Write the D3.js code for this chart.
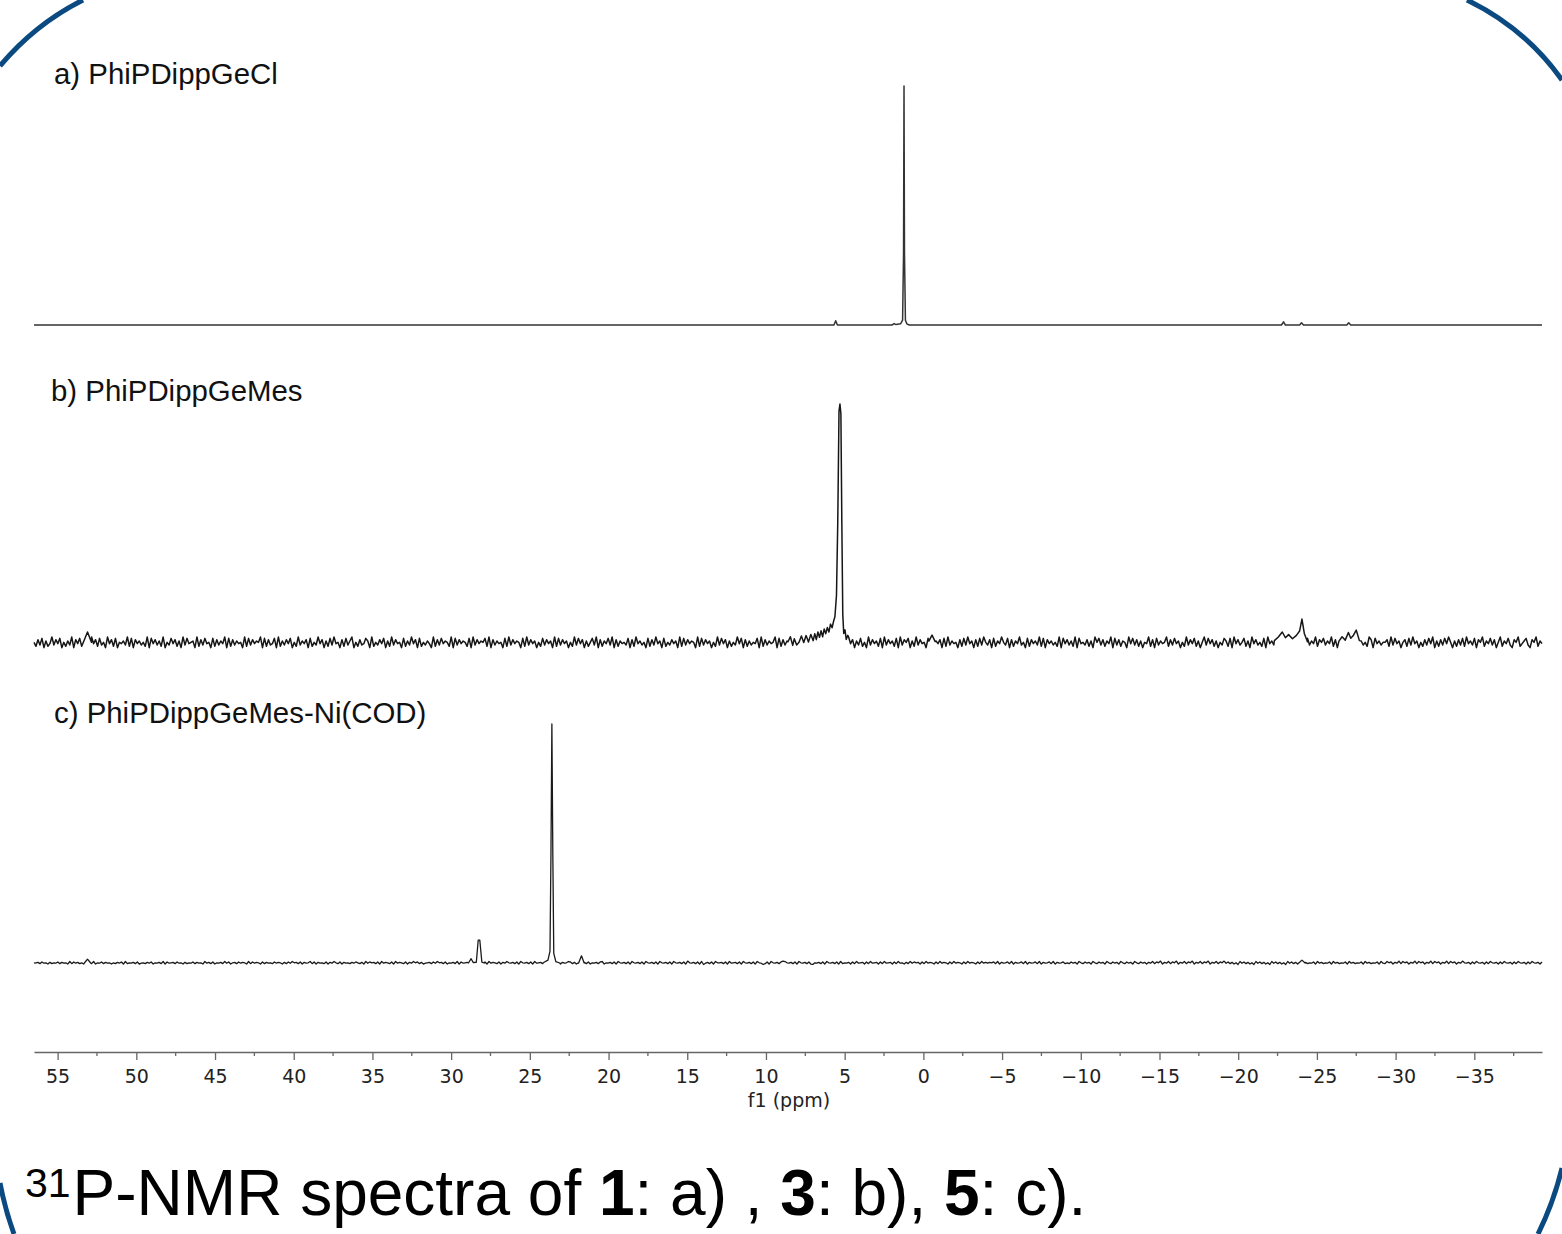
<!DOCTYPE html>
<html><head><meta charset="utf-8">
<script src="https://cdn.jsdelivr.net/npm/d3@7"></script>
<style>
html,body{margin:0;padding:0;background:#fff;}
svg{display:block;}
</style></head>
<body>
<svg id="chart" width="1562" height="1234"></svg>
<script>
// ---------- data ----------
const ppmDomain = [56.5, -39.3];
const majorTicks = [55, 50, 45, 40, 35, 30, 25, 20, 15, 10, 5, 0, -5, -10, -15, -20, -25, -30, -35];
const minorTicks = [52.5, 47.5, 42.5, 37.5, 32.5, 27.5, 22.5, 17.5, 12.5, 7.5, 2.5, -2.5, -7.5, -12.5, -17.5, -22.5, -27.5, -32.5, -37.5];
const axisTitle = "f1 (ppm)";
const spectrumLabels = ["a) PhiPDippGeCl", "b) PhiPDippGeMes", "c) PhiPDippGeMes-Ni(COD)"];

// peaks: [ppm, relative intensity] points (baseline 0, tallest peak 100)
const peaksA = [
  [[2.0, 0], [1.85, 0.6], [1.75, 0.2], [1.45, 0.5], [1.32, 2], [1.26, 30], [1.23, 100], [1.2, 30], [1.14, 2], [1.05, 0.5], [0.9, 0]],
  [[5.68, 0], [5.57, 1.8], [5.46, 0]],
  [[-22.75, 0], [-22.88, 1.3], [-23.0, 0]],
  [[-23.9, 0], [-24.02, 0.9], [-24.15, 0]],
  [[-26.9, 0], [-27.02, 0.9], [-27.15, 0]]
];
const peaksB = [
  [[53.35, 0.5], [53.1, 4.6], [52.85, 0.3]],
  [[8.6, 0.5], [8.45, 2.6], [8.3, -1.0], [8.2, 1.8], [8.05, -0.8], [7.9, 0.3], [7.75, 2.9], [7.6, 0.2], [7.45, 3.1], [7.3, 0.4], [7.15, 3.6], [7.0, 1.0], [6.9, 3.9], [6.8, 1.4], [6.7, 4.6], [6.6, 2.4], [6.5, 5.1], [6.4, 2.6], [6.3, 5.9], [6.2, 3.9], [6.1, 6.5], [6.0, 4.6], [5.9, 7.9], [5.8, 6.4], [5.7, 9.2], [5.62, 11], [5.52, 20], [5.44, 50], [5.36, 97], [5.3, 100], [5.24, 96], [5.18, 50], [5.12, 12], [5.06, 4], [4.98, 5.5], [4.9, 1.5], [4.8, 3.2]],
  [[-0.35, 0.8], [-0.55, 3.3], [-0.75, 0.6]],
  [[-22.3, 1], [-22.55, 2.5], [-22.8, 4.6], [-23.0, 2.2], [-23.2, 3.5], [-23.45, 1.8], [-23.7, 3.2], [-23.9, 5], [-24.05, 10], [-24.2, 4], [-24.4, 0.5]],
  [[-26.4, 0.8], [-26.6, 2.6], [-26.8, 1.2], [-27.0, 4.4], [-27.15, 2.0], [-27.3, 3.0], [-27.5, 5.4], [-27.7, 1.0]]
];
const peaksC = [
  [[53.3, 0], [53.1, 1.6], [52.9, 0]],
  [[28.9, 0], [28.73, 1.8], [28.6, 0.2], [28.4, 0.3], [28.28, 9.6], [28.18, 9.6], [28.05, 0.4], [27.9, 0]],
  [[24.1, 0.3], [23.85, 1.2], [23.72, 5], [23.66, 45], [23.6, 100], [23.54, 45], [23.48, 4], [23.35, 0.6], [23.1, 0]],
  [[21.9, 0], [21.72, 3], [21.55, 0]],
  [[-23.85, 0], [-24.05, 1.2], [-24.25, 0]]
];
// baseline noise read as digits 0..9 (4.5 = baseline) along the ppm axis
const noiseB =
  "5273816249374815263917482536194728351947" +
  "2815463928174635291847362915384726193845" +
  "6192738451827364918273645192837465918273" +
  "4819263748152936471825394716283945172836" +
  "9152734861925374816293745182639471825364" +
  "1927384652918374652819374658291736451829" +
  "3746518293746152837461928374615293847162" +
  "5839172648391726453817294635182739461825" +
  "3746192837465192837461529384716253948172" +
  "6354819273645918273645192837461928374651" +
  "2947361852947163825193746281937462819375" +
  "8162937451829364718293645172839461728395" +
  "3718264953817264935182746392817463529184" +
  "7362918453726195837264918372651948372615" +
  "4927183645927384615293748261593847261538" +
  "6281947358261947352819463728519463728154" +
  "1836492758364927185463927184635297184635" +
  "5729384615728394615273849162738495162738" +
  "2946381759264837159264831759246831759264";
const noiseC =
  "4563745263547364528374635274638254736452" +
  "5364728354637245364725463827456374526354" +
  "7364528463725463847256374652837465273645" +
  "3746526374856372645837264537264853726453" +
  "6475362847563728465372846537264857362456" +
  "3748563725463827456372846537284653726485" +
  "4637285463728456372845637264587362548637" +
  "2546378254637285463728546372854637285463" +
  "7285463729546372814637285563728456372854" +
  "6372854137285463798546372854637215463728" +
  "5463728354627384562738456273845627384526" +
  "3847562738465273846527384652738465273846" +
  "4657382645738264573826457382645738264573" +
  "5374628537462853746285374628537462853746" +
  "2648375926483759264837592648375926483759" +
  "4736251847362518473625184736251847362518" +
  "6354728463547284635472846354728463547284" +
  "3857264938572649385726493857264938572649" +
  "5462738546273854627385462738546273854627";
const noiseAmpB = 2.5, noiseAmpC = 0.8;

const captionParts = [
  {t: "P-NMR spectra of ", b: false}, {t: "1", b: true}, {t: ": a) , ", b: false},
  {t: "3", b: true}, {t: ": b), ", b: false}, {t: "5", b: true}, {t: ": c).", b: false}
];
const captionSup = "31";

// ---------- drawing ----------
const svg = d3.select("#chart");
const x = d3.scaleLinear().domain(ppmDomain).range([34, 1542]);

function buildSeries(noiseStr, amp, peaks) {
  let pts = [];
  if (noiseStr) {
    const n = noiseStr.length;
    const step = (ppmDomain[0] - ppmDomain[1]) / (n - 1);
    for (let i = 0; i < n; i++) {
      const ppm = ppmDomain[0] - i * step;
      const inPeak = peaks.some(p => ppm <= p[0][0] && ppm >= p[p.length - 1][0]);
      if (!inPeak) pts.push([ppm, amp * (+noiseStr[i] - 4.5) / 4.5]);
    }
  } else {
    pts.push([ppmDomain[0], 0], [ppmDomain[1], 0]);
  }
  peaks.forEach(p => pts.push(...p));
  pts.sort((a, b) => b[0] - a[0]);
  return pts;
}

const panels = [
  {label: spectrumLabels[0], data: buildSeries("", 0, peaksA), base: 325, lx: 54, ly: 84, w: 1.5, c: "#333"},
  {label: spectrumLabels[1], data: buildSeries(noiseB, noiseAmpB, peaksB), base: 643, lx: 51, ly: 401, w: 1.5, c: "#161616"},
  {label: spectrumLabels[2], data: buildSeries(noiseC, noiseAmpC, peaksC), base: 963, lx: 54, ly: 723, w: 1.3, c: "#1a1a1a"}
];

panels.forEach(p => {
  const y = d3.scaleLinear().domain([0, 100]).range([p.base, p.base - 239]);
  const line = d3.line().x(d => x(d[0])).y(d => y(d[1]));
  svg.append("path").datum(p.data)
    .attr("d", line)
    .attr("fill", "none")
    .attr("stroke", p.c)
    .attr("stroke-width", p.w)
    .attr("stroke-linejoin", "round");
  svg.append("text")
    .attr("x", p.lx).attr("y", p.ly)
    .attr("font-family", "'Liberation Sans', Arial, sans-serif")
    .attr("font-size", 29.4)
    .attr("fill", "#111")
    .text(p.label);
});

// axis
const axisG = svg.append("g").attr("transform", "translate(0,1052)");
const axis = d3.axisBottom(x).tickValues(majorTicks).tickSizeInner(8).tickSizeOuter(0).tickPadding(10);
axisG.call(axis);
axisG.select(".domain").attr("stroke", "#666").attr("stroke-width", 1.6);
axisG.selectAll(".tick line").attr("stroke", "#666").attr("stroke-width", 1.3);
axisG.selectAll(".tick text")
  .attr("font-family", "'DejaVu Sans', sans-serif")
  .attr("font-size", 19)
  .attr("fill", "#222");
axisG.selectAll(".minor").data(minorTicks).enter().append("line")
  .attr("class", "minor")
  .attr("x1", d => x(d)).attr("x2", d => x(d))
  .attr("y1", 0).attr("y2", 4)
  .attr("stroke", "#666").attr("stroke-width", 1.3);
svg.append("text")
  .attr("x", 789).attr("y", 1107)
  .attr("text-anchor", "middle")
  .attr("font-family", "'DejaVu Sans', sans-serif")
  .attr("font-size", 19)
  .attr("fill", "#222")
  .text(axisTitle);

// caption
const cap = svg.append("text")
  .attr("x", 25).attr("y", 1215)
  .attr("font-family", "'Liberation Sans', Arial, sans-serif")
  .attr("fill", "#000");
cap.append("tspan").attr("font-size", 41).attr("dy", -18).text(captionSup);
cap.append("tspan").attr("font-size", 64).attr("dy", 18).attr("dx", 2).text(captionParts[0].t);
captionParts.slice(1).forEach(c => {
  cap.append("tspan").attr("font-size", 64).attr("font-weight", c.b ? "bold" : "normal").text(c.t);
});

// decorative frame corners
const frame = [
  "M 0 66 A 260 260 0 0 1 83 0",
  "M 1467 0 A 250 250 0 0 1 1562 80",
  "M 1562 1168 A 320 320 0 0 1 1538 1234",
  "M 14 1234 A 320 320 0 0 1 0 1183"
];
svg.selectAll(".frame").data(frame).enter().append("path")
  .attr("class", "frame")
  .attr("d", d => d)
  .attr("fill", "none")
  .attr("stroke", "#0b4a80")
  .attr("stroke-width", 5);
</script>
</body></html>
